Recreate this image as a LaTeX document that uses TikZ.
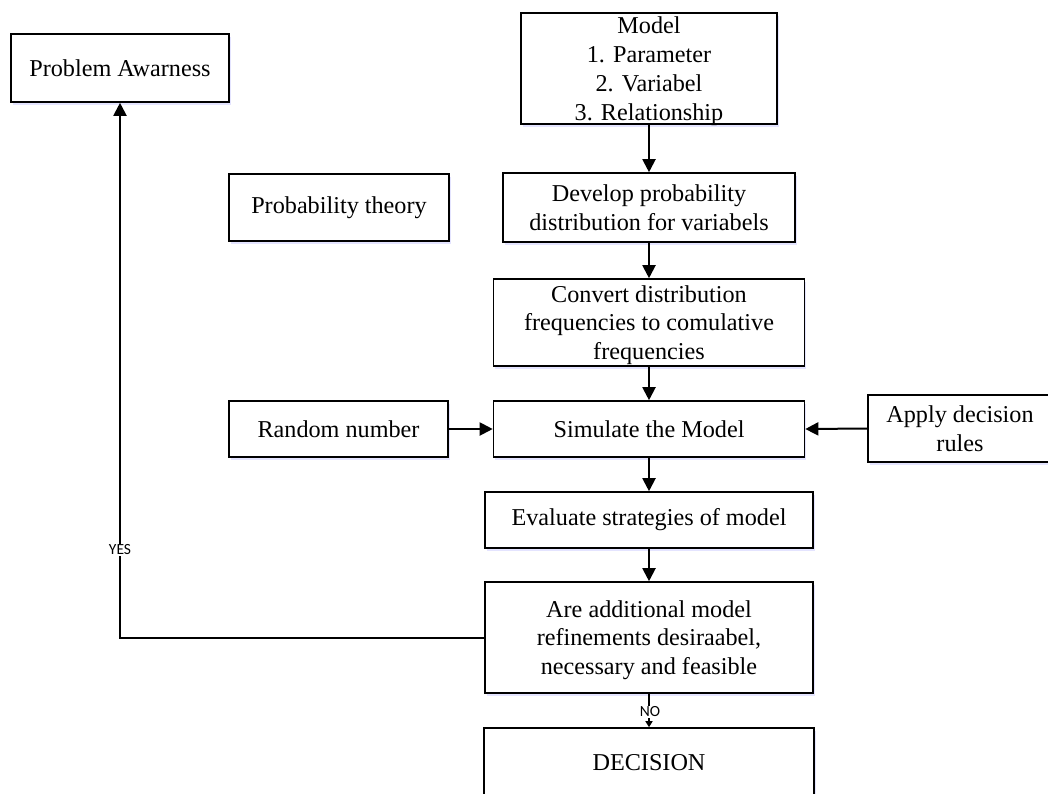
\documentclass[tikz,border=0pt]{standalone}
\usepackage{fontspec}
\setmainfont{Liberation Serif}
\newfontfamily\labfont{Carlito}
\usetikzlibrary{arrows.meta,shadows}
\begin{document}
\begin{tikzpicture}[x=1pt,y=-1pt,
  box/.style={draw,line width=1.6pt,fill=white,inner sep=0pt,align=center,
    font=\fontsize{24.2}{28.8}\selectfont,
    drop shadow={shadow xshift=1.5pt,shadow yshift=-2.5pt,fill=blue!30!white,opacity=0.35}},
  arr/.style={line width=2pt,-{Triangle[length=13pt,width=13pt]}},
  smallarr/.style={line width=2pt,-{Triangle[length=6pt,width=7pt]}},
  lab/.style={fill=white,inner sep=1pt,font=\labfont\fontsize{15.5}{16}\selectfont}]
\useasboundingbox (0,0) rectangle (1048,793);
\clip (0,0) rectangle (1048,793);
\fill[white] (0,0) rectangle (1048,793);

\node[box,minimum width=218pt,minimum height=68pt] (prob) at (120,68) {Problem Awarness};
\node[box,text depth=-1pt,minimum width=256pt,minimum height=111pt] (model) at (649,68.5) {Model\\1. Parameter\\2. Variabel\\3. Relationship};
\node[box,minimum width=220pt,minimum height=67pt] (theory) at (339,207.5) {Probability theory};
\node[box,minimum width=292pt,minimum height=69pt] (develop) at (649,207.5) {Develop probability\\distribution for variabels};
\node[box,text depth=-1pt,minimum width=311pt,minimum height=87pt] (convert) at (649,322.5) {Convert distribution\\frequencies to comulative\\frequencies};
\node[box,minimum width=219pt,minimum height=56pt] (random) at (338.5,429) {Random number};
\node[box,minimum width=311pt,minimum height=56pt] (simulate) at (649,429) {Simulate the Model};
\node[box,text depth=-6pt,minimum width=184pt,minimum height=67pt] (apply) at (960,428.5) {Apply decision\\rules};
\node[box,minimum width=328pt,minimum height=56pt] (evaluate) at (649,520) {Evaluate strategies of model};
\node[box,text depth=-1pt,minimum width=328pt,minimum height=111pt] (are) at (649,637.5) {Are additional model\\refinements desiraabel,\\necessary and feasible};
\node[box,minimum width=330pt,minimum height=70pt] (decision) at (649,763) {DECISION};

\draw[arr] (model.south) -- (develop.north);
\draw[arr] (develop.south) -- (convert.north);
\draw[arr] (convert.south) -- (simulate.north);
\draw[arr] (simulate.south) -- (evaluate.north);
\draw[arr] (evaluate.south) -- (are.north);
\draw[arr] (random.east) -- (simulate.west);
\draw[arr] (apply.west) -- (simulate.east);
\draw[arr] (are.west) -| (prob.south);
\draw[smallarr] (are.south) -- (decision.north);
\node[lab] (yes) at (120,550) {YES};
\node[lab] (no) at (650,712) {NO};
\end{tikzpicture}
\end{document}
